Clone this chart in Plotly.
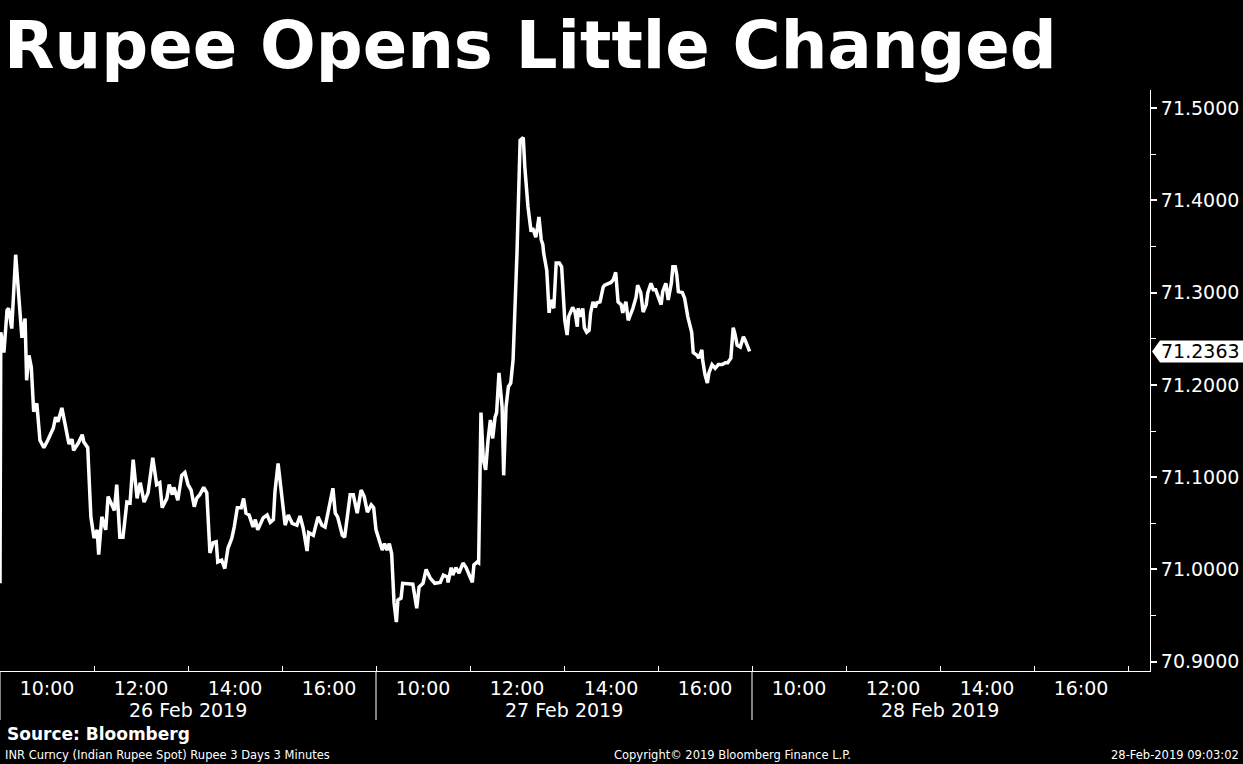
import plotly.graph_objects as go
import pandas as pd

# ---------------- data ----------------
title_text = "Rupee Opens Little Changed"
session_dates = ["2019-02-26", "2019-02-27", "2019-02-28"]
date_labels = ["26 Feb 2019", "27 Feb 2019", "28 Feb 2019"]
session_open_hour = 9
session_hours = 8
hour_labels = ["10:00", "12:00", "14:00", "16:00"]
minor_hours = ["11:00", "13:00", "15:00", "17:00"]

# minutes after the 09:00 open, and INR spot values
day1_minutes = [0, 1, 5, 9, 11, 15, 20, 23, 28, 32, 34, 37, 40, 43, 47, 51, 56, 61, 68, 71,
                74, 79, 83, 88, 92, 94, 100, 105, 107, 112, 116, 120, 124, 126, 130, 135, 138,
                143, 146, 149, 153, 157, 162, 166, 170, 175, 179, 184, 189, 195, 200, 204, 207,
                213, 216, 220, 222, 227, 232, 236, 240, 244, 248, 251, 255, 260, 264, 268, 272,
                276, 278, 283, 287, 291, 296, 299, 303, 308, 311, 314, 318, 323, 326, 329, 336,
                341, 345, 349, 351, 355, 360, 364, 368, 373, 379, 383, 387, 392, 394, 400, 406,
                411, 415, 420, 425, 428, 431, 437, 440, 447, 451, 456, 461, 465, 469, 474, 477]
day1_values = [70.985, 71.257, 71.235, 71.281, 71.283, 71.261, 71.341, 71.310, 71.251, 71.272,
               71.205, 71.232, 71.219, 71.171, 71.180, 71.140, 71.132, 71.140, 71.153, 71.165,
               71.160, 71.175, 71.157, 71.136, 71.141, 71.129, 71.137, 71.146, 71.138, 71.132,
               71.057, 71.034, 71.043, 71.016, 71.057, 71.043, 71.079, 71.068, 71.064, 71.092,
               71.035, 71.035, 71.073, 71.072, 71.119, 71.077, 71.094, 71.073, 71.083, 71.121,
               71.092, 71.094, 71.067, 71.077, 71.092, 71.081, 71.089, 71.075, 71.102, 71.105,
               71.092, 71.086, 71.068, 71.077, 71.081, 71.089, 71.083, 71.018, 71.029, 71.030,
               71.008, 71.010, 71.001, 71.023, 71.034, 71.046, 71.067, 71.067, 71.077, 71.061,
               71.059, 71.046, 71.054, 71.043, 71.056, 71.059, 71.051, 71.054, 71.084, 71.115,
               71.081, 71.048, 71.059, 71.050, 71.048, 71.058, 71.045, 71.020, 71.040, 71.037,
               71.057, 71.048, 71.046, 71.067, 71.088, 71.061, 71.057, 71.037, 71.035, 71.081,
               71.081, 71.061, 71.086, 71.079, 71.062, 71.070, 71.067]

day2_minutes = [0, 8, 11, 14, 17, 20, 23, 26, 28, 32, 34, 47, 52, 55, 60, 64, 69, 75, 82, 86,
                91, 92, 96, 98, 102, 106, 111, 115, 119, 123, 125, 129, 131, 134, 137, 140, 143,
                146, 149, 152, 154, 157, 161, 163, 166, 169, 172, 175, 180, 184, 188, 190, 194,
                198, 200, 204, 206, 208, 211, 213, 214, 218, 221, 223, 227, 230, 234, 237, 241,
                244, 246, 251, 254, 257, 258, 262, 264, 266, 269, 272, 274, 277, 280, 282, 286,
                290, 292, 296, 300, 303, 306, 309, 313, 315, 319, 322, 326, 328, 332, 334, 338,
                341, 345, 347, 351, 354, 357, 360, 364, 366, 370, 373, 377, 379, 382, 384, 386,
                391, 394, 398, 401, 403, 405, 410, 412, 416, 417, 420, 423, 425, 429, 433, 437,
                442, 446, 449, 453, 456, 458, 461, 465, 469, 471, 475, 477]
day2_values = [71.043, 71.021, 71.028, 71.021, 71.028, 71.017, 70.964, 70.943, 70.967, 70.969,
               70.985, 70.984, 70.958, 70.981, 70.985, 71.000, 70.991, 70.985, 70.986, 70.994,
               70.992, 70.986, 71.002, 70.994, 71.002, 70.996, 71.007, 71.002, 70.994, 70.986,
               71.005, 71.008, 71.007, 71.170, 71.119, 71.108, 71.140, 71.162, 71.142, 71.165,
               71.170, 71.213, 71.176, 71.102, 71.176, 71.198, 71.202, 71.227, 71.343, 71.465,
               71.468, 71.436, 71.393, 71.366, 71.370, 71.360, 71.370, 71.382, 71.357, 71.352,
               71.343, 71.324, 71.278, 71.292, 71.283, 71.332, 71.332, 71.328, 71.270, 71.254,
               71.274, 71.284, 71.279, 71.263, 71.283, 71.274, 71.283, 71.262, 71.257, 71.259,
               71.278, 71.290, 71.284, 71.289, 71.290, 71.306, 71.308, 71.310, 71.311, 71.314,
               71.322, 71.290, 71.287, 71.278, 71.290, 71.270, 71.278, 71.283, 71.295, 71.308,
               71.300, 71.279, 71.287, 71.300, 71.310, 71.303, 71.303, 71.295, 71.287, 71.301,
               71.310, 71.292, 71.310, 71.328, 71.328, 71.319, 71.301, 71.300, 71.294, 71.274,
               71.262, 71.257, 71.235, 71.232, 71.229, 71.238, 71.227, 71.211, 71.202, 71.213,
               71.222, 71.218, 71.222, 71.222, 71.224, 71.224, 71.229, 71.262, 71.256, 71.243,
               71.241, 71.252, 71.249, 71.240, 71.2363]

last_value = 71.2363
y_ticks = [70.9, 71.0, 71.1, 71.2, 71.3, 71.4, 71.5]

source_text = "Source: Bloomberg"
footer_left = "INR Curncy (Indian Rupee Spot) Rupee 3 Days 3 Minutes"
footer_mid = "Copyright\u00a9 2019 Bloomberg Finance L.P."
footer_right = "28-Feb-2019 09:03:02"

# ------------- helpers: session-compressed time axis -------------
def session_pos(day_idx, ts):
    return day_idx * session_hours + (ts.hour - session_open_hour) + ts.minute / 60.0


def build(day_idx, minutes, values):
    open_ts = pd.Timestamp(f"{session_dates[day_idx]} {session_open_hour:02d}:00")
    stamps = [open_ts + pd.Timedelta(minutes=m) for m in minutes]
    return [session_pos(day_idx, t) for t in stamps], values, [t.strftime("%d %b %H:%M") for t in stamps]


x_all, y_all, t_all = [], [], []
for i, (mins, vals) in enumerate([(day1_minutes, day1_values), (day2_minutes, day2_values)]):
    xs, ys, ts = build(i, mins, vals)
    x_all += xs
    y_all += ys
    t_all += ts

tickvals, ticktext, minorvals = [], [], []
for i, d in enumerate(session_dates):
    for lab in hour_labels:
        tickvals.append(session_pos(i, pd.Timestamp(f"{d} {lab}")))
        ticktext.append(lab)
    for lab in minor_hours:
        minorvals.append(session_pos(i, pd.Timestamp(f"{d} {lab}")))

FONT = "DejaVu Sans"
W, H = 1243, 764
ML, MR, MT, MB = 0, 93, 90, 93
plot_w = W - ML - MR
plot_h = H - MT - MB
px_per_hour = 47.0
x_max = plot_w / px_per_hour
Y_LO, Y_HI = 70.890, 71.5195

fig = go.Figure()
fig.add_trace(go.Scatter(
    x=x_all, y=y_all, text=t_all, mode="lines",
    line=dict(color="white", width=3.5),
    hovertemplate="%{text}<br>%{y:.4f}<extra></extra>",
    showlegend=False,
))

fig.update_layout(
    width=W, height=H,
    paper_bgcolor="black", plot_bgcolor="black",
    margin=dict(l=ML, r=MR, t=MT, b=MB),
    title=dict(text=f"<b>{title_text}</b>", x=4 / W, xanchor="left",
               y=1 - 45 / H, yanchor="middle", yref="container",
               font=dict(family=FONT, size=65.6, color="white")),
    xaxis=dict(range=[0, x_max], showgrid=False, zeroline=False,
               showline=True, linecolor="white", linewidth=1,
               tickmode="array", tickvals=tickvals, ticktext=ticktext, ticks="",
               tickfont=dict(family=FONT, size=19, color="white"),
               minor=dict(tickmode="array", tickvals=minorvals, ticks="inside",
                          ticklen=5, tickcolor="white", tickwidth=1)),
    yaxis=dict(side="right", range=[Y_LO, Y_HI], showgrid=False, zeroline=False,
               showline=True, linecolor="white", linewidth=1,
               tickmode="array", tickvals=y_ticks, ticktext=[f"{v:.4f}" for v in y_ticks],
               ticks="outside", ticklen=6, tickwidth=2, tickcolor="white",
               tickfont=dict(family=FONT, size=19, color="white"),
               minor=dict(dtick=0.05, ticks="outside", ticklen=5, tickcolor="white", tickwidth=1)),
)

# day separators and date labels
sep_depth = 49 / plot_h
for i, lab in enumerate(date_labels):
    fig.add_shape(type="line", xref="x", yref="paper", x0=i * session_hours, x1=i * session_hours,
                  y0=0, y1=-sep_depth, line=dict(color="white", width=1))
    fig.add_annotation(xref="x", yref="paper", x=i * session_hours + session_hours / 2,
                       y=-(710 - (H - MB)) / plot_h, yanchor="middle", showarrow=False,
                       text=lab, font=dict(family=FONT, size=19, color="white"))

# last value tag
half = 11 / (plot_h / (Y_HI - Y_LO))
x_tip = (plot_w + 2) / plot_w
x_sh = (plot_w + 10) / plot_w
x_end = (W - ML) / plot_w
fig.add_shape(type="path", xref="paper", yref="y", layer="above",
              path=(f"M {x_tip},{last_value} L {x_sh},{last_value + half} L {x_end},{last_value + half} "
                    f"L {x_end},{last_value - half} L {x_sh},{last_value - half} Z"),
              fillcolor="white", line=dict(color="white", width=0))
fig.add_annotation(xref="paper", yref="y", x=(plot_w + 9) / plot_w, y=last_value,
                   xanchor="left", yanchor="middle", showarrow=False,
                   text=f"{last_value:.4f}", font=dict(family=FONT, size=19, color="black"))

# footer
def py(pix):
    return -(pix - (H - MB)) / plot_h

fig.add_annotation(xref="paper", yref="paper", x=5 / plot_w, y=py(734), xanchor="left", yanchor="middle",
                   showarrow=False, text=f"<b>{source_text}</b>",
                   font=dict(family=FONT, size=17, color="white"))
fig.add_annotation(xref="paper", yref="paper", x=3 / plot_w, y=py(755), xanchor="left", yanchor="middle",
                   showarrow=False, text=footer_left, font=dict(family=FONT, size=11.5, color="white"))
fig.add_annotation(xref="paper", yref="paper", x=732 / plot_w, y=py(755), xanchor="center", yanchor="middle",
                   showarrow=False, text=footer_mid, font=dict(family=FONT, size=11.5, color="white"))
fig.add_annotation(xref="paper", yref="paper", x=1241 / plot_w, y=py(755), xanchor="right", yanchor="middle",
                   showarrow=False, text=footer_right, font=dict(family=FONT, size=11.5, color="white"))

fig.write_html(
    "out.html",
    config={"displayModeBar": False},
    post_script="document.body.style.margin='0';document.body.style.padding='0';"
                "document.body.style.background='black';",
)
